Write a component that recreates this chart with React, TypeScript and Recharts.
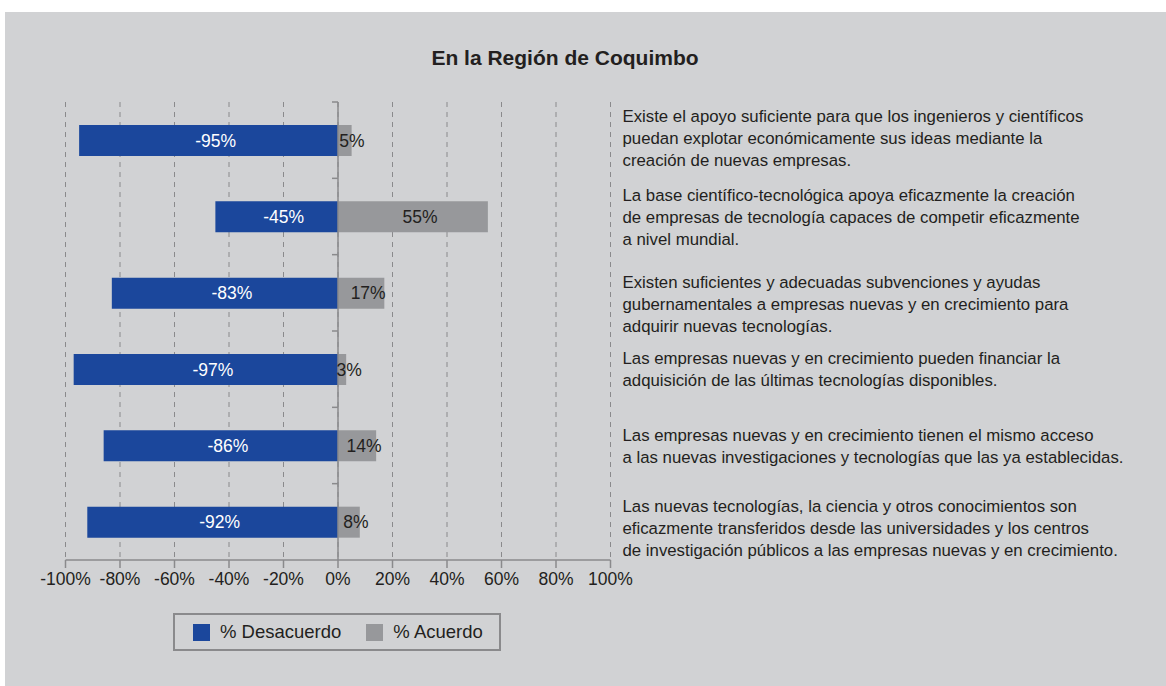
import React from 'react';
import {
  BarChart, Bar, XAxis, YAxis, CartesianGrid, ReferenceLine, LabelList, Legend,
} from 'recharts';

const statementLines: string[][] = [
  [
    'Existe el apoyo suficiente para que los ingenieros y científicos',
    'puedan explotar económicamente sus ideas mediante la',
    'creación de nuevas empresas.',
  ],
  [
    'La base científico-tecnológica apoya eficazmente la creación',
    'de empresas de tecnología capaces de competir eficazmente',
    'a nivel mundial.',
  ],
  [
    'Existen suficientes y adecuadas subvenciones y ayudas',
    'gubernamentales a empresas nuevas y en crecimiento para',
    'adquirir nuevas tecnologías.',
  ],
  [
    'Las empresas nuevas y en crecimiento pueden financiar la',
    'adquisición de las últimas tecnologías disponibles.',
  ],
  [
    'Las empresas nuevas y en crecimiento tienen el mismo acceso',
    'a las nuevas investigaciones y tecnologías que las ya establecidas.',
  ],
  [
    'Las nuevas tecnologías, la ciencia y otros conocimientos son',
    'eficazmente transferidos desde las universidades y los centros',
    'de investigación públicos a las empresas nuevas y en crecimiento.',
  ],
];
const categories: string[] = statementLines.map((l) => l.join(' '));
const desacuerdo: number[] = [-95, -45, -83, -97, -86, -92];
const acuerdo: number[] = [5, 55, 17, 3, 14, 8];
const xTicks: number[] = [-100, -80, -60, -40, -20, 0, 20, 40, 60, 80, 100];
const title = 'En la Región de Coquimbo';
const seriesNames = { desacuerdo: '% Desacuerdo', acuerdo: '% Acuerdo' };

// small vertical nudges (px) of the statement text blocks, as in the original layout
const statementNudge: number[] = [-2, 1, 11, 0, 1, 6];

const data = categories.map((name, i) => ({
  name,
  desacuerdo: desacuerdo[i],
  acuerdo: acuerdo[i],
}));

const BG = '#d1d2d4';
const BLUE = '#1b479c';
const GRAY = '#97989b';
const AXIS = '#8a8a8c';
const TEXT = '#231f20';
const FONT = '"Liberation Sans", Arial, Helvetica, sans-serif';

const RightTick = (props: any) => {
  const { x, y, payload } = props;
  const idx = categories.indexOf(payload.value);
  const lines = idx >= 0 ? statementLines[idx] : [String(payload.value)];
  const nudge = idx >= 0 ? statementNudge[idx] : 0;
  const lh = 22;
  const startY = y + nudge - ((lines.length - 1) * lh) / 2;
  return (
    <text x={x + 10} y={startY} fill={TEXT} fontSize={16.8} fontFamily={FONT} textAnchor="start">
      {lines.map((l, i) => (
        <tspan key={i} x={x + 10} y={startY + i * lh} dy="0.35em">{l}</tspan>
      ))}
    </text>
  );
};

const makeLabel = (color: string) => (props: any) => {
  const { x, y, width, height, value } = props;
  return (
    <text
      x={x + width / 2 + 7}
      y={y + height / 2}
      dy="0.36em"
      fill={color}
      fontSize={17.5}
      fontFamily={FONT}
      textAnchor="middle"
    >
      {`${value}%`}
    </text>
  );
};

const LegendContent = () => (
  <div
    style={{
      boxSizing: 'border-box',
      width: 328,
      height: 38,
      border: `2px solid ${AXIS}`,
      display: 'flex',
      alignItems: 'center',
      fontFamily: FONT,
      fontSize: 18.5,
      color: TEXT,
      paddingLeft: 18,
    }}
  >
    <span style={{ display: 'inline-block', width: 17, height: 17, background: BLUE, marginRight: 10 }} />
    <span style={{ marginRight: 25 }}>{seriesNames.desacuerdo}</span>
    <span style={{ display: 'inline-block', width: 17, height: 17, background: GRAY, marginRight: 10 }} />
    <span>{seriesNames.acuerdo}</span>
  </div>
);

export default function App() {
  return (
    <div
      style={{
        position: 'absolute',
        left: 5,
        top: 12,
        width: 1161,
        height: 674,
        background: BG,
      }}
    >
      <div
        style={{
          position: 'absolute',
          left: 0,
          width: 1120,
          top: 34,
          textAlign: 'center',
          fontFamily: FONT,
          fontWeight: 'bold',
          fontSize: 21,
          color: TEXT,
        }}
      >
        {title}
      </div>
      <BarChart
        width={1161}
        height={674}
        data={data}
        layout="vertical"
        stackOffset="sign"
        margin={{ top: 90, right: 0, bottom: 58, left: 60.5 }}
      >
        <CartesianGrid
          horizontal={false}
          vertical={true}
          stroke={AXIS}
          strokeDasharray="5 5"
          strokeWidth={1}
        />
        <XAxis
          type="number"
          domain={[-100, 100]}
          ticks={xTicks}
          tickFormatter={(v: number) => `${v}%`}
          stroke={AXIS}
          strokeWidth={1.5}
          tickSize={8}
          tickMargin={5}
          interval={0}
          tick={{ fill: TEXT, fontSize: 17.5, fontFamily: FONT }}
        />
        <YAxis
          type="category"
          dataKey="name"
          orientation="right"
          width={555.5}
          axisLine={false}
          tickLine={false}
          tickSize={0}
          interval={0}
          tick={<RightTick />}
        />
        <ReferenceLine x={0} stroke={AXIS} strokeWidth={1.5} ifOverflow="extendDomain" />
        {categories.map((c) => (
          <ReferenceLine
            key={c}
            segment={[{ x: -2.2, y: c }, { x: 0, y: c }]}
            position="start"
            stroke={AXIS}
            strokeWidth={1.5}
          />
        ))}
        <Bar dataKey="desacuerdo" name={seriesNames.desacuerdo} stackId="a" fill={BLUE} barSize={31} isAnimationActive={false}>
          <LabelList dataKey="desacuerdo" content={makeLabel('#ffffff')} />
        </Bar>
        <Bar dataKey="acuerdo" name={seriesNames.acuerdo} stackId="a" fill={GRAY} barSize={31} isAnimationActive={false}>
          <LabelList dataKey="acuerdo" content={makeLabel(TEXT)} />
        </Bar>
        <Legend
          content={<LegendContent />}
          verticalAlign="bottom"
          wrapperStyle={{ left: 168, top: 601, width: 328, height: 38, bottom: 'auto' }}
        />
      </BarChart>
    </div>
  );
}
